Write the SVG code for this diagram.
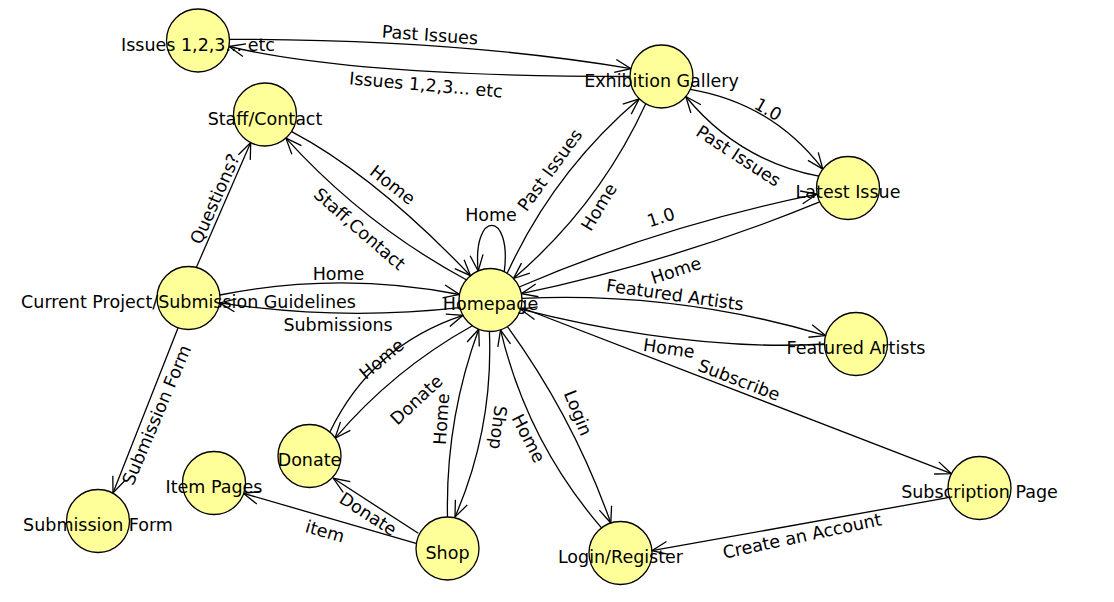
<svg xmlns="http://www.w3.org/2000/svg" width="1114" height="602" viewBox="0 0 1114 602">
<defs>
<style>
.n{fill:#ffff99;stroke:#000;stroke-width:1.3}
.t{font-family:"DejaVu Sans","Liberation Sans",sans-serif;font-size:17.5px;fill:#000;text-anchor:middle}
.e{fill:none;stroke:#000;stroke-width:1.3;marker-end:url(#a)}
</style>
<marker id="a" markerUnits="userSpaceOnUse" markerWidth="20" markerHeight="14" viewBox="0 0 20 14" refX="16" refY="7" orient="auto" overflow="visible">
<path d="M0,0.5 L16,7 L0,13.5" fill="none" stroke="#000" stroke-width="1.3"/>
</marker>
</defs>
<rect width="1114" height="602" fill="#fff"/>
<g id="connectors">
<path class="e" d="M229.5,39.3 Q456,39.3 631,68.6"/>
<path class="e" d="M630,76.5 Q356,76.5 228.9,46.5"/>
<path class="e" d="M291.7,131.7 Q374,175 470.5,275.7"/>
<path class="e" d="M466.7,280 Q364.7,225 285.9,138.1"/>
<path class="e" d="M196.3,267.5 L250.7,142.6"/>
<path class="e" d="M219.9,295 Q340,271 459.5,294.5"/>
<path class="e" d="M459.9,307.6 Q340,321 219.6,302.9"/>
<path class="e" d="M178,328 L113,493"/>
<path class="e" d="M504.3,271.7 C512,210 472,210 478.2,271"/>
<path class="e" d="M507.2,273.3 Q553.8,171.5 639.2,98.8"/>
<path class="e" d="M645.75,103.8 Q599,205.5 513.5,278.5"/>
<path class="e" d="M690.3,89.3 Q772.4,103.3 822.8,169.1"/>
<path class="e" d="M818.8,176.2 Q737.9,160.3 685.8,96.5"/>
<path class="e" d="M519.2,287 Q661.7,225.7 817.1,194.2"/>
<path class="e" d="M819.7,201.9 Q674,261.5 521.4,293.7"/>
<path class="e" d="M521.95,298.35 Q677,291.2 825.6,335.6"/>
<path class="e" d="M824.5,344 Q690,352 520.6,309.2"/>
<path class="e" d="M521.1,307.5 L951.4,473.7"/>
<path class="e" d="M330,431.7 Q371.8,345.3 463,315.3"/>
<path class="e" d="M472.4,325.8 Q393.6,369.6 335,438.3"/>
<path class="e" d="M418.3,533.3 L333.3,478.3"/>
<path class="e" d="M416,543.3 L243.3,493.3"/>
<path class="e" d="M447.5,517 Q445.4,420.1 478.7,329.2"/>
<path class="e" d="M489.4,331.5 Q493.4,428.2 455,517"/>
<path class="e" d="M507.4,326.6 Q573.3,417.3 610.8,523"/>
<path class="e" d="M601.5,527.9 Q527,441.2 500.5,329.9"/>
<path class="e" d="M949.4,497.4 L651.9,550.7"/>
</g>
<g id="issues"><circle class="n" cx="198" cy="40.5" r="31.5"/><text class="t" x="198" y="50.5">Issues 1,2,3... etc</text></g>
<g id="staff"><circle class="n" cx="265" cy="114.5" r="31.5"/><text class="t" x="265" y="124.5">Staff/Contact</text></g>
<g id="exhibition"><circle class="n" cx="661.5" cy="76.5" r="31.5"/><text class="t" x="661.5" y="86.5">Exhibition Gallery</text></g>
<g id="latest"><circle class="n" cx="848" cy="188" r="31.5"/><text class="t" x="848" y="198">Latest Issue</text></g>
<g id="homepage"><circle class="n" cx="490.5" cy="300" r="31.5"/><text class="t" x="490.5" y="310">Homepage</text></g>
<g id="current"><circle class="n" cx="188.5" cy="298" r="31.5"/><text class="t" x="188.5" y="308">Current Project/Submission Guidelines</text></g>
<g id="featured"><circle class="n" cx="856" cy="344" r="31.5"/><text class="t" x="856" y="354">Featured Artists</text></g>
<g id="subform"><circle class="n" cx="98" cy="521" r="31.5"/><text class="t" x="98" y="531">Submission Form</text></g>
<g id="items"><circle class="n" cx="214" cy="483" r="31.5"/><text class="t" x="214" y="493">Item Pages</text></g>
<g id="donate"><circle class="n" cx="309.5" cy="456" r="31.5"/><text class="t" x="309.5" y="466">Donate</text></g>
<g id="shop"><circle class="n" cx="447.5" cy="548.5" r="31.5"/><text class="t" x="447.5" y="558.5">Shop</text></g>
<g id="login"><circle class="n" cx="620.5" cy="553" r="31.5"/><text class="t" x="620.5" y="563">Login/Register</text></g>
<g id="subscription"><circle class="n" cx="979.5" cy="488" r="31.5"/><text class="t" x="979.5" y="498">Subscription Page</text></g>
<g id="edge-labels">
<text class="t" transform="translate(430,35) rotate(4)" y="6">Past Issues</text>
<text class="t" transform="translate(426,85) rotate(5)" y="6">Issues 1,2,3... etc</text>
<text class="t" transform="translate(392.5,185) rotate(38)" y="6">Home</text>
<text class="t" transform="translate(359.5,229) rotate(41)" y="6">Staff,Contact</text>
<text class="t" transform="translate(215,199) rotate(-66)" y="6">Questions?</text>
<text class="t" transform="translate(338.5,273.5)" y="6">Home</text>
<text class="t" transform="translate(338,324.5)" y="6">Submissions</text>
<text class="t" transform="translate(156.7,415) rotate(-67)" y="6">Submission Form</text>
<text class="t" transform="translate(491,214.5)" y="6">Home</text>
<text class="t" transform="translate(550,170) rotate(-54)" y="6">Past Issues</text>
<text class="t" transform="translate(599,207) rotate(-59)" y="6">Home</text>
<text class="t" transform="translate(768,109.5) rotate(30)" y="6">1.0</text>
<text class="t" transform="translate(738.5,156) rotate(33)" y="6">Past Issues</text>
<text class="t" transform="translate(661,217.5) rotate(-18)" y="6">1.0</text>
<text class="t" transform="translate(676,270.5) rotate(-18)" y="6">Home</text>
<text class="t" transform="translate(675,295) rotate(8)" y="6">Featured Artists</text>
<text class="t" transform="translate(669,348.5) rotate(8)" y="6">Home</text>
<text class="t" transform="translate(739,380) rotate(21)" y="6">Subscribe</text>
<text class="t" transform="translate(381.7,359) rotate(-40)" y="6">Home</text>
<text class="t" transform="translate(416.5,400) rotate(-43)" y="6">Donate</text>
<text class="t" transform="translate(441.5,419) rotate(-86)" y="6">Home</text>
<text class="t" transform="translate(498,427.5) rotate(97)" y="6">Shop</text>
<text class="t" transform="translate(578,413) rotate(68)" y="6">Login</text>
<text class="t" transform="translate(528.4,438.3) rotate(63)" y="6">Home</text>
<text class="t" transform="translate(368,514) rotate(33)" y="6">Donate</text>
<text class="t" transform="translate(325,531.5) rotate(16)" y="6">item</text>
<text class="t" transform="translate(802,536) rotate(-12)" y="6">Create an Account</text>
</g>
</svg>
